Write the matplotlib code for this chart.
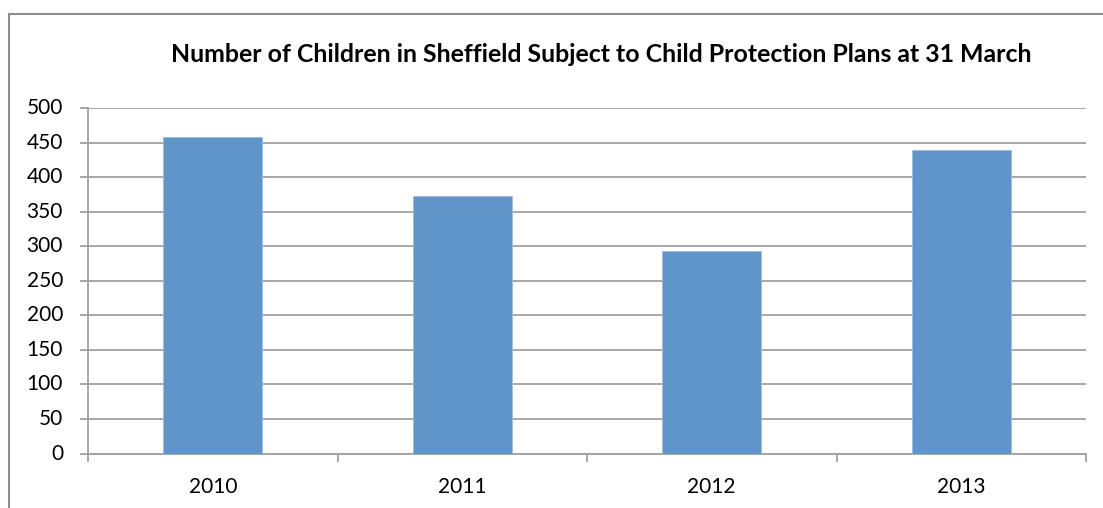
import matplotlib
matplotlib.use("Agg")
import matplotlib.pyplot as plt
from matplotlib.lines import Line2D

categories = ["2010", "2011", "2012", "2013"]
values = [458, 373, 293, 439]
yticks = [0, 50, 100, 150, 200, 250, 300, 350, 400, 450, 500]
title = "Number of Children in Sheffield Subject to Child Protection Plans at 31 March"

plt.rcParams['font.family'] = ['Lato', 'DejaVu Sans']

fig = plt.figure(figsize=(11.03, 5.08), dpi=100)
ax = fig.add_axes([88/1103, 1-453.5/508, (1086-88)/1103, (453.5-108)/508])

x = list(range(len(categories)))
ax.bar(x, values, width=0.395, color='#5F95C8', edgecolor='#9DBDE0', linewidth=0.6, zorder=3)

ax.set_xlim(-0.5, len(categories)-0.5)
ax.set_ylim(0, 500)
ax.set_yticks(yticks)
ax.set_yticklabels([str(v) for v in yticks], fontsize=15)
ax.yaxis.grid(True, color='#A0A0A0', linewidth=1.3, zorder=0)
ax.set_axisbelow(True)

ax.set_xticks([i - 0.5 for i in range(len(categories)+1)])
ax.set_xticklabels([])
ax.set_xticks(x, minor=True)
ax.set_xticklabels(categories, minor=True, fontsize=15)
ax.tick_params(axis='x', which='major', length=6, color='#A0A0A0', width=1.3, direction='out')
ax.tick_params(axis='x', which='minor', length=0, pad=17)
ax.tick_params(axis='y', length=6, color='#A0A0A0', width=1.3, pad=12)
for lbl in ax.get_yticklabels():
    lbl.set_verticalalignment('center')

for s in ['top', 'right']:
    ax.spines[s].set_visible(False)
for s in ['left', 'bottom']:
    ax.spines[s].set_color('#A0A0A0')
    ax.spines[s].set_linewidth(1.3)

fig.text(601/1103, 1-54/508, title, ha='center', va='center', fontsize=17.9, fontweight='bold')

# outer chart frame
fig.add_artist(Line2D([8.5/1103, 8.5/1103], [0, 1-14/508], transform=fig.transFigure, color='#8C8C8C', linewidth=1.5))
fig.add_artist(Line2D([8.5/1103, 1], [1-14/508, 1-14/508], transform=fig.transFigure, color='#8C8C8C', linewidth=1.5))

fig.savefig("out.png", dpi=100)
